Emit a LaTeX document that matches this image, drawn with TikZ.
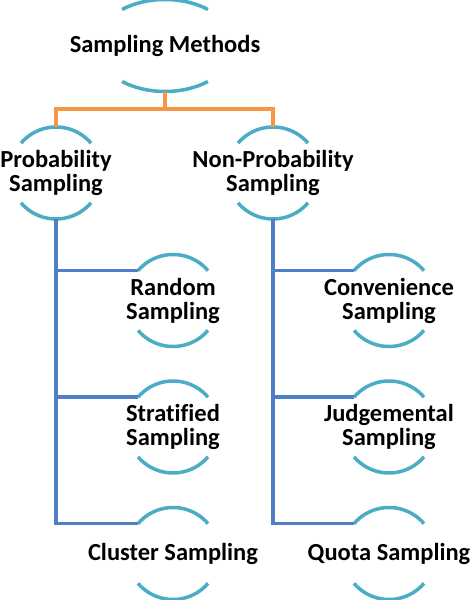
\documentclass[tikz,border=0pt]{standalone}
\usepackage{fontspec}
\setmainfont{Carlito}[Ligatures=NoCommon]
\usepackage{tikz}
\usetikzlibrary{positioning,calc}
\definecolor{ringteal}{HTML}{4BACC6}
\definecolor{trunkorange}{HTML}{F79646}
\definecolor{branchblue}{HTML}{4F7FC7}
\tikzset{box/.style={rectangle,inner sep=0pt,minimum height=92pt,align=center,
                     font=\bfseries\fontsize{24.5}{24}\selectfont},
         ring/.style={draw=ringteal,line width=3.5pt},
         trunk/.style={draw=trunkorange,line width=3.5pt},
         branch/.style={draw=branchblue,line width=3.5pt}
}

\begin{document}
\begin{tikzpicture}[x=1pt,y=1pt]
    \useasboundingbox (0,0) rectangle (474,600);

    \node[box] (M)  at (165,554.5) {Sampling Methods};
    \node[box] (P)  at (56,427)    {Probability\\Sampling};
    \node[box] (N)  at (273,427)   {Non-Probability\\Sampling};
    \node[box] (R)  at (173,299.5) {Random\\Sampling};
    \node[box] (S)  at (173,173)   {Stratified\\Sampling};
    \node[box] (C)  at (173,46.5)  {Cluster Sampling};
    \node[box] (V)  at (389,299.5) {Convenience\\Sampling};
    \node[box] (J)  at (389,173)   {Judgemental\\Sampling};
    \node[box] (Q)  at (389,46.5)  {Quota Sampling};

    % arcs above and below each label
    \draw[ring] ([shift={(51.5:69 and 46)}]M.center) arc[start angle=51.5,end angle=128.5,x radius=69,y radius=46];
    \draw[ring] ([shift={(231.5:69 and 46)}]M.center) arc[start angle=231.5,end angle=308.5,x radius=69,y radius=46];
    \foreach \n in {P,N,R,S,C,V,J,Q}{
        \draw[ring] ([shift={(40.5:46)}]\n.center) arc[start angle=40.5,end angle=139.5,radius=46];
        \draw[ring] ([shift={(220.5:46)}]\n.center) arc[start angle=220.5,end angle=319.5,radius=46];
        \coordinate (\n-in) at ([shift={(139.5:46)}]\n.center);
    }

    \draw[trunk] (M.south) -- ++(0,-17.5) coordinate (fork);
    \draw[trunk] (fork) -| (P.north);
    \draw[trunk] (fork) -| (N.north);

    \draw[branch] (P.south) |- (C-in);
    \draw[branch] (P.south |- R-in) -- (R-in);
    \draw[branch] (P.south |- S-in) -- (S-in);
    \draw[branch] (N.south) |- (Q-in);
    \draw[branch] (N.south |- V-in) -- (V-in);
    \draw[branch] (N.south |- J-in) -- (J-in);
\end{tikzpicture}
\end{document}
